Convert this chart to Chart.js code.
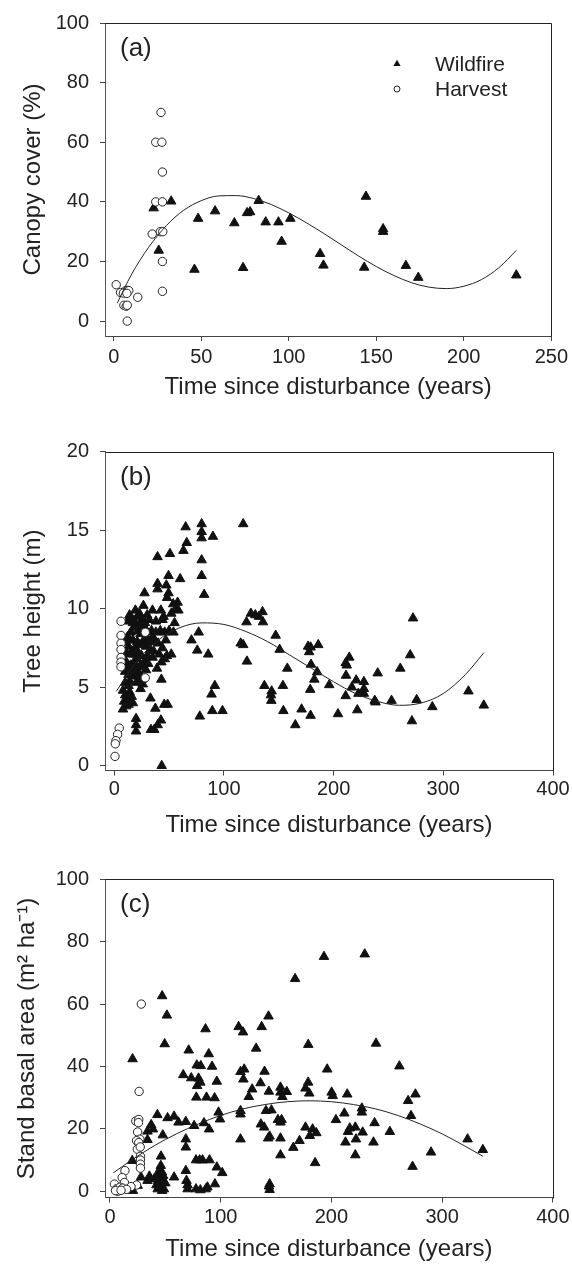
<!DOCTYPE html>
<html>
<head>
<meta charset="utf-8">
<script src="https://cdn.jsdelivr.net/npm/chart.js@4.4.1/dist/chart.umd.min.js"></script>
<style>
  html, body { margin: 0; padding: 0; background: #fff; }
  canvas { position: absolute; left: 0; display: block; }
</style>
</head>
<body>
<canvas id="chartA" width="572" height="420" style="top:0px"></canvas>
<canvas id="chartB" width="572" height="420" style="top:420px"></canvas>
<canvas id="chartC" width="572" height="427" style="top:840px"></canvas>
<script>
// ---- data ----

const xTitle = "Time since disturbance (years)";

// (a) canopy cover
const fireA = [[22.8,37.9],[32.8,40.2],[25.7,23.7],[46.1,17.3],[48.2,34.4],[57.9,36.9],[68.9,32.9],[73.9,17.9],
  [76.2,36.3],[77.9,36.6],[82.8,40.4],[86.8,33.2],[94.1,33.2],[95.9,26.7],[100.9,34.4],[117.9,22.6],[119.8,18.7],
  [144.1,41.8],[143.1,18],[153.9,30.9],[153.9,30],[166.9,18.6],[174,14.6],[230,15.4]];
const harvA = [[27,70],[24,60],[27.5,60],[27.8,50],[24,40],[27.8,40],[22,29.2],[26.6,30],[28,30],[27.8,20],[27.8,10],
  [1.4,12.2],[3.9,9.6],[6.7,10.2],[7.7,10.3],[8.6,10.2],[5.5,9.4],[7.5,9.3],[5.8,5.3],[7.1,5.0],[7.7,5.3],[13.7,8],[7.7,0]];
const fitAX = [2,10,20,30,40,50,60,70,80,90,100,110,120,130,140,150,160,170,180,190,200,210,220,230];
const fitAY = [6.0,15.5,24.8,32.0,37.2,40.4,42.0,42.1,41.1,39.1,36.3,33.0,29.4,25.6,21.8,18.3,15.3,12.9,11.4,10.9,11.7,13.9,17.9,23.7];
const xTicksA = [0,50,100,150,200,250];
const yTicksA = [0,20,40,60,80,100];

// (b) tree height
const fireB = [[39.5,13.3],[50.8,13.5],[65.1,15.2],[79.7,15.4],[79.7,14.9],[79.7,14.5],[90,14.6],[66.1,14.2],[63.1,13.7],
  [79.7,13.1],[79.7,12.1],[82,10.9],[49.5,12.1],[60.1,11.9],[39.5,11.6],[39.5,11.25],[47.5,11.5],[49.5,11.0],[48.2,10.7],
  [27.6,11.0],[53.8,10.3],[57.8,10.4],[117.6,15.4],
  [19.3,9.9],[26.6,10.2],[23,9.7],[30,9.6],[34.9,9.9],[42.5,9.9],[45,9.5],[58.5,9.9],
  [124.6,9.7],[128.6,9.6],[135.2,9.8],[132,9.5],[135.6,9.15],[120.6,9.15],
  [12,9.2],[16,9.4],[20,9.0],[25,9.3],[32,9.3],[38,9.2],[44,9.3],[55,9.1],[18,8.8],[22,8.6],[27,8.9],
  [15,8.5],[24,8.4],[30,8.5],[34,8.6],[38,8.5],[42,8.6],[46,8.5],[50,8.6],[54,8.5],[12,8.2],[17,8.0],
  [10,7.9],[13,7.6],[19,7.5],[23,7.7],[26,7.9],[29,7.6],[33,7.4],[36,7.3],[40,7.8],[44,7.5],[48,7.0],[52,7.1],[11,7.2],[15,7.1],
  [9,6.8],[12,6.5],[18,6.6],[21,6.8],[24,6.4],[28,6.7],[31,6.5],[35,6.9],[39,6.2],[43,6.6],[46,6.8],
  [10,6.0],[13,5.8],[16,6.1],[19,5.7],[22,6.0],[25,5.5],[29,6.1],[14,5.4],[20,5.3],[26,5.2],[43,5.5],
  [8,4.8],[10,4.5],[12,4.3],[9,4.1],[11,3.8],[14,4.7],[16,4.4],[8,3.6],[13,3.9],[17,4.0],[33,4.3],[37.5,3.65],[45.6,3.9],[48.7,3.9],
  [19.9,3.0],[19.9,2.6],[19.9,2.2],[33.5,2.3],[36.5,2.3],[39.6,2.6],[42.6,2.9],[43.3,0],
  [14,9.6],[17,9.1],[21,9.5],[23,8.9],[26,8.7],[28,9.1],[30,8.1],[32,7.9],[21,7.9],[14,8.0],[16,7.3],[18,7.1],
  [22,7.2],[25,7.0],[27,6.3],[30,7.0],[20,6.3],[17,5.9],[15,6.4],[23,5.7],[11,6.3],[37,8.0],[41,7.1],[35,8.2],
  [47,8.0],[52,9.7],[56,10.0],[13,5.1],[10,5.3],[24,4.9],
  [70.4,8.0],[77,8.5],[75.7,7.35],[85.7,7.1],[78,3.15],[88.7,4.55],[91.7,5.1],[89.4,3.5],[98.7,3.5],
  [115.3,7.8],[117.6,7.7],[121,6.65],[136.9,5.1],[143.5,4.75],[142.9,4.5],[143.2,4.15],[147.2,8.3],[150.8,7.4],
  [157.8,6.2],[153.8,5.1],[154.2,3.5],[165.1,2.6],[170.8,3.6],[176.7,7.6],[177.7,7.25],[179,7.55],[186,7.7],
  [178.7,4.85],[179,3.2],[179.4,6.45],[182.4,5.5],[185,5.97],[196,5.15],[204,3.3],[211,6.55],[214.3,6.9],[212,6.4],
  [211.3,5.75],[211,4.45],[216.6,5.0],[221.6,3.55],[220.6,5.45],[222.6,4.6],[227.6,5.35],[227.6,4.9],[227.6,4.6],
  [237.5,4.15],[238.2,4.05],[240.2,5.9],[252.8,4.15],[260.8,6.2],[269.8,7.05],[272.4,9.4],[271.4,2.85],[275.7,4.2],
  [290,3.75],[322.9,4.75],[336.9,3.85]];
const harvB = [[6.2,9.2],[6.2,8.3],[6.2,7.8],[6.2,7.4],[6.2,6.9],[6.2,6.6],[6.2,6.3],[28.3,8.5],[28.3,5.6],
  [4.6,2.4],[3.1,2.0],[1.6,1.6],[1.0,1.4],[0.7,0.6]];
const fitBX = [2,20,40,60,80,100,120,140,160,180,200,220,240,260,280,300,320,337];
const fitBY = [4.75,6.6,8.0,8.8,9.1,9.0,8.55,7.9,7.05,6.2,5.35,4.6,4.1,3.85,4.0,4.6,5.8,7.2];
const xTicksB = [0,100,200,300,400];
const yTicksB = [0,5,10,15,20];

// (c) stand basal area
const fireC = [[20.4,42.4],[47.1,62.6],[51.4,56.4],[49.4,47.2],[71.1,45.2],[86.3,52],[89.2,44],[116.2,52.7],[120.2,51],
  [137,52.7],[143.2,56.1],[132,45.8],[167.2,68.1],[179.1,47],[193.3,75.2],[230.1,76],[240.3,47.4],[261.4,40.1],
  [66.2,37.3],[73.4,36.3],[78.4,40.4],[82,40.2],[92.2,40],[80,36.2],[81.6,34.9],[78.7,33.8],[78,30.1],[87.2,30.1],
  [94.5,29.9],[96.5,35.2],[117.9,38.3],[121.2,39.1],[120.5,35.9],[139.6,38.4],[136,34.7],[143.5,32],[125.4,30.3],
  [128.4,32.7],[154,33.3],[154,31.7],[155.7,30.3],[159.7,31.9],[176.6,33],[179,34.9],[180,31.4],[196.2,39.1],
  [200.2,31.7],[201.2,30.6],[214.3,31.1],[227.5,26.6],[227.5,25.3],[269.3,29],[275.9,31.1],[271.9,24.2],
  [42.8,24.5],[52,23.5],[47.7,18],[37.2,21.3],[38.8,19.9],[33.9,16.5],[57.9,24],[61.9,22.1],[68.5,22.3],[76,21],
  [84.9,21.9],[89.5,19.9],[98.1,25.3],[99.4,23.1],[117.9,25.8],[117.9,24.7],[117.9,16.7],[136.3,21.5],[139.3,20.5],
  [140.9,25.8],[145.8,26],[144.2,17.6],[142.9,17],[151.7,22.9],[154,22.1],[155,22.9],[154,17],[154,11.6],[165.6,14],
  [171.2,16.2],[176.6,20.5],[180.5,17.8],[183,19.9],[186.4,18.7],[185.3,9.1],[204.1,22.9],[211.7,25],[212.7,15.7],
  [215,19.1],[216.6,20.2],[221.6,20.5],[222.2,16.7],[221.6,11.6],[228.2,18.9],[238,15.7],[239,21.9],[252.8,19.1],
  [273.3,7.9],[290,12.5],[323,16.7],[336.8,13.3],[68.5,16.7],[68.5,14.1],
  [33.9,19.2],[20.1,9.8],[28,4.5],[33.9,3.4],[35.6,4.8],[44.8,6.8],[45.4,4.5],[43.8,5.5],[46.1,11.2],[45.9,8.2],
  [43.1,0.7],[47.1,0.2],[48.7,0.7],[43.5,3.4],[45,2.3],[57.9,4.5],[68.5,6.6],[69.1,3.4],[70.1,2],[70.1,0.7],
  [77.7,10],[81,10],[83.6,10],[89.9,10],[77.7,0.7],[81.6,0.4],[86.6,0.7],[88,1.3],[94.8,2.3],[96.5,7.7],[101.4,5.9],
  [144.2,2.3],[144.2,0.5],[143.6,1.6],[20.7,0.2],[25,1.8],
  [42,2],[44,1.2],[46,3],[48,5],[40,4],[47,6.1],[50,2.6]];
const harvC = [[28.3,60],[26.3,32],[23.3,22.5],[26,23],[25.7,22],[25,19],[27,16.7],[24,16.2],[26,15.6],[24.7,13.5],
  [27.3,14.2],[27.5,11.2],[27.5,10],[27.5,8.7],[27.5,7.4],[13.5,6.6],[11,4.4],[13,2.8],[24,2],[19,1.5],[4,2.3],
  [6,0.8],[7,0],[8,0.6],[9,1.3],[11.5,1],[15,0.6],[5,0.2],[10,0.3]];
const fitCX = [3,20,40,60,80,100,120,140,160,180,200,220,240,260,280,300,320,337];
const fitCY = [5.9,10.1,14.6,18.4,21.6,24.3,26.4,27.8,28.7,29.0,28.7,27.8,26.4,24.3,21.6,18.4,14.6,11.2];
const xTicksC = [0,100,200,300,400];
const yTicksC = [0,20,40,60,80,100];

// ---- drawing ----

const FONT = "'Liberation Sans', Arial, sans-serif";
const INK = '#222';
Chart.defaults.font.family = FONT;
Chart.defaults.color = INK;

function pts(list) { return list.map(p => ({x: p[0], y: p[1]})); }
function line(xs, ys) { return xs.map((x, i) => ({x: x, y: ys[i]})); }

// top/right frame, panel letter and legend
const framePlugin = {
  id: 'frame',
  afterDraw(chart, args, opts) {
    const ctx = chart.ctx, a = chart.chartArea;
    ctx.save();
    ctx.strokeStyle = INK;
    ctx.lineWidth = 1;
    ctx.beginPath();
    ctx.moveTo(Math.round(a.left) + 0.5, Math.round(a.top) + 0.5);
    ctx.lineTo(Math.round(a.right) + 0.5, Math.round(a.top) + 0.5);
    ctx.lineTo(Math.round(a.right) + 0.5, Math.round(a.bottom) + 0.5);
    ctx.stroke();

    ctx.fillStyle = INK;
    ctx.font = '26px ' + FONT;
    ctx.textBaseline = 'middle';
    ctx.fillText(opts.letter, a.left + 15, a.top + 26);

    if (opts.legend) {
      const lx = a.left + 292;
      const tx = a.left + 330;
      let ly = a.top + 41;
      chart.data.datasets.filter(d => d.legendName).sort((p, q) => p.legendRank - q.legendRank).forEach(d => {
        ctx.beginPath();
        if (d.pointStyle === 'triangle') {
          const r = 4.2;
          ctx.moveTo(lx, ly - r);
          ctx.lineTo(lx + r * 0.866, ly + r / 2);
          ctx.lineTo(lx - r * 0.866, ly + r / 2);
          ctx.closePath();
          ctx.fillStyle = '#111';
          ctx.fill();
        } else {
          ctx.arc(lx, ly, 3, 0, Math.PI * 2);
          ctx.fillStyle = '#fff';
          ctx.fill();
          ctx.strokeStyle = INK;
          ctx.stroke();
        }
        ctx.fillStyle = INK;
        ctx.font = '21px ' + FONT;
        ctx.fillText(d.legendName, tx, ly + 1);
        ly += 25;
      });
    }
    ctx.restore();
  }
};

function makePanel(id, o) {
  const axisGrid = { drawOnChartArea: false, drawTicks: true, tickLength: 5, color: '#444' };
  return new Chart(document.getElementById(id), {
    type: 'scatter',
    data: {
      datasets: [
        { data: line(o.fitX, o.fitY), showLine: true, pointRadius: 0, borderColor: INK, borderWidth: 1,
          tension: 0.4, cubicInterpolationMode: 'monotone', fill: false, order: 0, clip: false },
        { data: pts(o.harv), pointStyle: 'circle', radius: 4.2, backgroundColor: '#fff', borderColor: INK,
          borderWidth: 1, order: 1, clip: false, legendName: 'Harvest', legendRank: 2 },
        { data: pts(o.fire), pointStyle: 'triangle', radius: 5.5, backgroundColor: '#111', borderColor: '#111',
          borderWidth: 1, order: 2, clip: false, legendName: 'Wildfire', legendRank: 1 }
      ]
    },
    options: {
      responsive: false,
      animation: false,
      events: [],
      layout: { padding: { left: 0, right: 19, top: o.top, bottom: 0 } },
      plugins: {
        legend: { display: false },
        tooltip: { enabled: false },
        frame: { letter: o.letter, legend: o.legend }
      },
      scales: {
        x: {
          type: 'linear', min: o.xMin, max: o.xMax,
          afterBuildTicks: s => { s.ticks = o.xTicks.map(v => ({ value: v })); },
          afterFit: s => { s.height = o.xHeight; },
          grid: axisGrid,
          border: { display: true, color: '#444', width: 1 },
          ticks: { padding: o.xLabelPad, font: { size: 20 }, color: INK, maxRotation: 0 },
          title: { display: true, text: xTitle, font: { size: 24 }, color: INK, padding: { top: 0, bottom: o.xTitlePad } }
        },
        y: {
          type: 'linear', min: o.yMin, max: o.yMax,
          afterBuildTicks: s => { s.ticks = o.yTicks.map(v => ({ value: v })); },
          afterFit: s => { s.width = 105; },
          grid: axisGrid,
          border: { display: true, color: '#555', width: 1 },
          ticks: { padding: 11, font: { size: 20 }, color: INK },
          title: { display: true, text: o.yTitle, font: { size: 24 }, color: INK, padding: { top: o.yTitlePad, bottom: 0 } }
        }
      }
    },
    plugins: [framePlugin]
  });
}

makePanel('chartA', {
  fire: fireA, harv: harvA, fitX: fitAX, fitY: fitAY,
  xMin: -5, xMax: 250, yMin: -5, yMax: 100, xTicks: xTicksA, yTicks: yTicksA,
  top: 17, xHeight: 84, xLabelPad: 4, xTitlePad: 18.6,
  yTitle: 'Canopy cover (%)', yTitlePad: 18.6, letter: '(a)', legend: true
});

makePanel('chartB', {
  fire: fireB, harv: harvB, fitX: fitBX, fitY: fitBY,
  xMin: -8.4, xMax: 400, yMin: -0.3, yMax: 20, xTicks: xTicksB, yTicks: yTicksB,
  top: 31.7, xHeight: 69.5, xLabelPad: 1.5, xTitlePad: 0,
  yTitle: 'Tree height (m)', yTitlePad: 18.6, letter: '(b)', legend: false
});

makePanel('chartC', {
  fire: fireC, harv: harvC, fitX: fitCX, fitY: fitCY,
  xMin: -4.5, xMax: 400, yMin: -2, yMax: 100, xTicks: xTicksC, yTicks: yTicksC,
  top: 39.3, xHeight: 69.5, xLabelPad: 2.5, xTitlePad: 3.6,
  yTitle: 'Stand basal area (m\u00B2 ha\u207B\u00B9)', yTitlePad: 12.6, letter: '(c)', legend: false
});
</script>
</body>
</html>
